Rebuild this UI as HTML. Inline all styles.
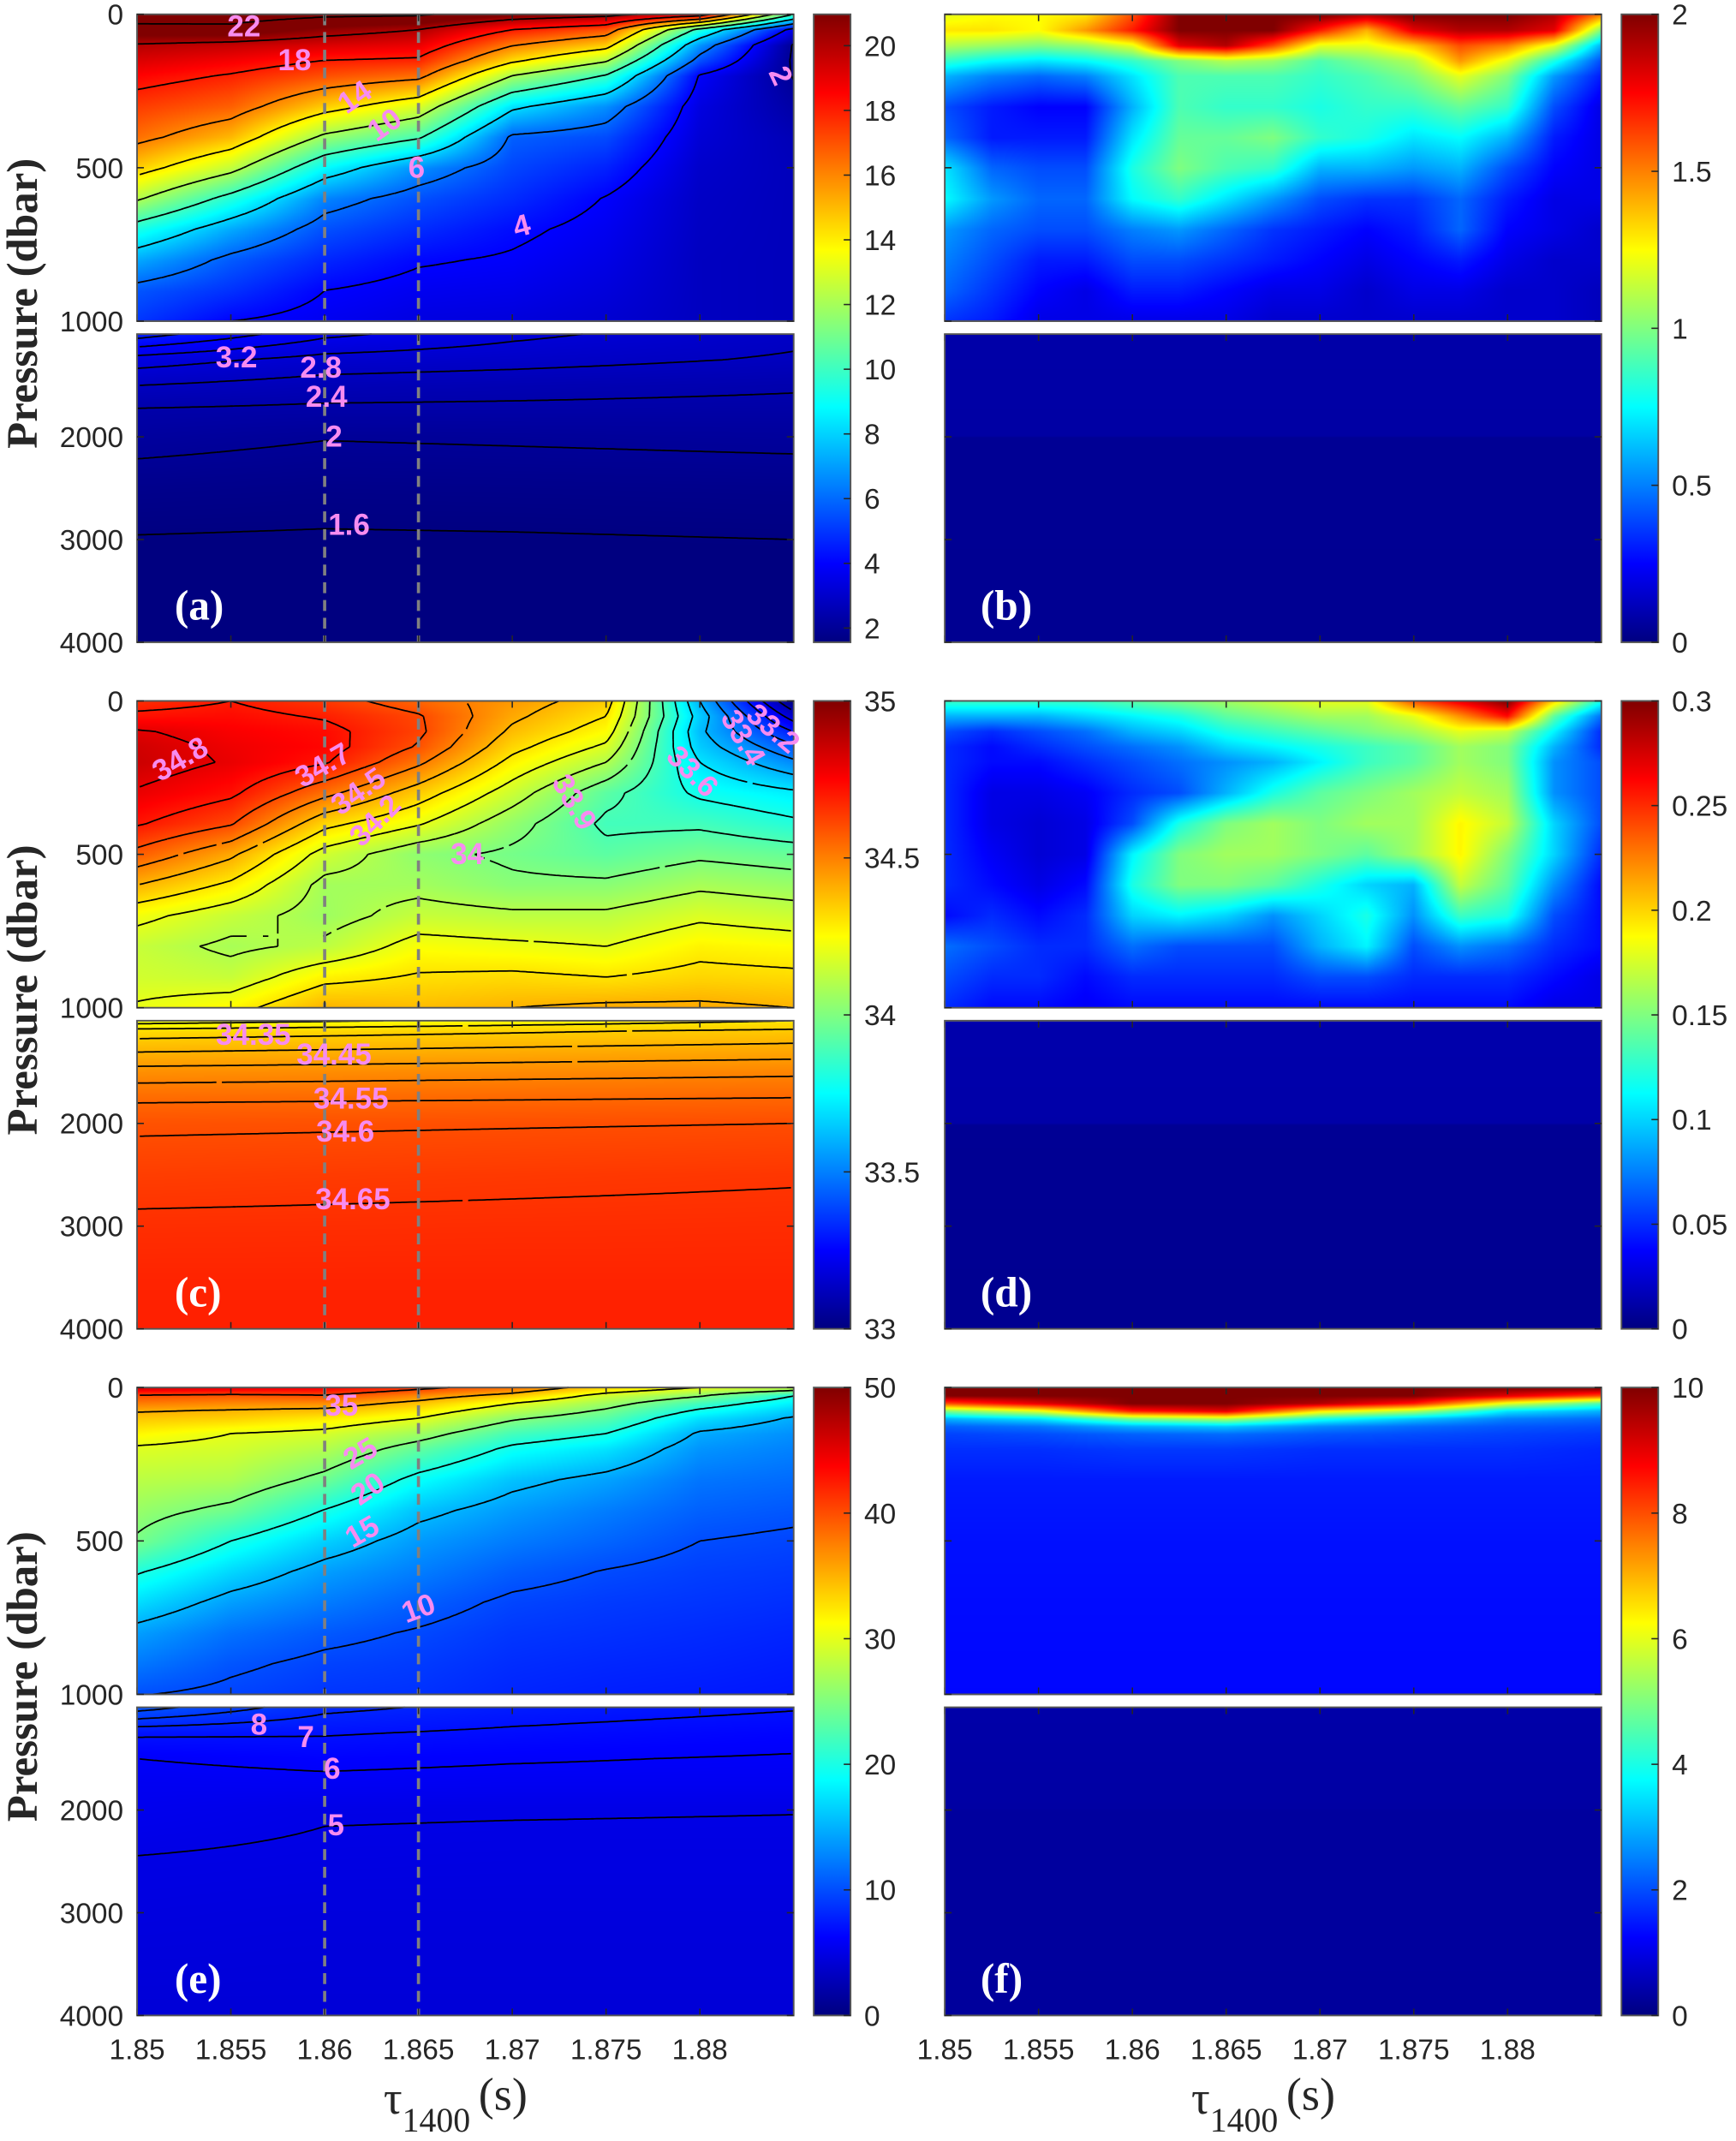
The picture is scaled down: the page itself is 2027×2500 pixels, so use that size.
<!DOCTYPE html>
<html><head><meta charset="utf-8">
<style>
html,body{margin:0;padding:0;background:#fff;width:2027px;height:2500px;overflow:hidden}
#stage{position:absolute;left:0;top:0;width:1273px;height:1570px;transform:scale(1.592302);transform-origin:0 0}
canvas{position:absolute;display:block}
svg{position:absolute;left:0;top:0}
text{font-family:"Liberation Sans",sans-serif}
</style></head>
<body>
<div id="stage">
<svg id="ov" width="1273" height="1570" viewBox="0 0 1273 1570"></svg>
</div>
<script>
// ===== DATA =====
const tauCols8 = [1.85,1.855,1.86,1.865,1.87,1.875,1.88,1.885];
const tauCols15 = [1.85,1.8525,1.855,1.8575,1.86,1.8625,1.865,1.8675,1.87,1.8725,1.875,1.8775,1.88,1.8825,1.885];
const xTickValues = [1.85,1.855,1.86,1.865,1.87,1.875,1.88];
const xTickLabels = ["1.85","1.855","1.86","1.865","1.87","1.875","1.88"];
const dashedTaus = [1.86,1.865];

// (a) temperature, upper 0-1000
const tempUpperDepth = [0,50,100,150,200,300,400,500,600,700,800,900,1000];
const tempUpper = [
 [22.8,21.5,19.9,19.2,18.5,17.4,16.4,14.6,12.2,9.3,7.2,5.6,5.0],
 [22.7,21.6,19.6,18.7,17.9,16.7,15.0,12.5,9.5,7.2,5.7,4.9,4.0],
 [22.3,20.6,19.2,18.0,17.0,14.6,11.7,8.8,6.5,5.5,4.7,4.0,3.7],
 [22.2,20.0,18.9,17.8,16.4,13.0,10.2,6.7,5.5,4.8,4.1,3.7,3.4],
 [21.0,18.0,16.1,14.3,12.0,8.3,5.8,5.3,4.8,4.2,3.9,3.6,3.3],
 [20.5,16.9,14.6,12.2,9.9,6.7,5.4,4.6,3.95,3.7,3.5,3.3,3.1],
 [19.0,9.5,6.8,5.5,3.9,3.4,3.2,3.0,2.9,2.85,2.8,2.8,2.8],
 [10.0,3.5,1.9,1.85,1.95,2.3,2.6,2.7,2.7,2.7,2.7,2.7,2.7]];
const tempLowerTau = [1.85,1.86,1.87,1.885];
const tempLowerDepth = [1000,1250,1500,1750,2000,2500,3000,3500,4000];
const tempLower = [
 [4.6,3.4,2.8,2.35,2.15,1.8,1.58,1.45,1.35],
 [3.7,3.05,2.62,2.3,2.02,1.75,1.56,1.45,1.35],
 [3.3,2.95,2.55,2.3,2.05,1.77,1.57,1.45,1.35],
 [2.9,2.75,2.45,2.28,2.1,1.8,1.6,1.46,1.36]];
const tempUpperLevels = [2,4,6,8,10,12,14,16,18,20,22];
const tempLowerLevels = [1.6,2,2.4,2.8,3.2,3.6,4.0,4.4];

// (b) temperature std
const tstdUpperDepth = [0,50,100,150,200,300,400,500,600,700,800,900,1000];
const tstdUpper = [
 [1.2,1.3,1.1,0.85,0.6,0.4,0.45,0.7,0.75,0.55,0.5,0.45,0.35],
 [1.25,1.3,1.05,0.75,0.5,0.3,0.3,0.45,0.55,0.45,0.4,0.35,0.3],
 [1.25,1.25,1.0,0.7,0.45,0.25,0.3,0.4,0.45,0.4,0.3,0.25,0.2],
 [1.3,1.45,1.05,0.75,0.5,0.25,0.3,0.4,0.45,0.4,0.3,0.2,0.2],
 [1.6,1.7,1.2,0.85,0.7,0.6,0.7,0.8,0.75,0.5,0.4,0.3,0.2],
 [2.0,2.0,1.8,1.0,0.9,0.9,0.95,1.0,0.85,0.55,0.4,0.3,0.2],
 [2.0,2.0,1.9,1.1,0.9,0.85,0.95,0.9,0.7,0.45,0.35,0.25,0.2],
 [2.0,2.0,1.6,1.05,0.9,0.85,1.0,0.85,0.55,0.35,0.3,0.2,0.15],
 [2.0,1.7,1.2,0.9,0.85,0.8,0.85,0.6,0.4,0.3,0.25,0.2,0.15],
 [1.9,1.4,1.2,1.0,0.9,0.85,0.8,0.6,0.35,0.25,0.2,0.15,0.15],
 [2.0,1.8,1.35,1.1,1.0,0.85,0.7,0.55,0.35,0.3,0.25,0.2,0.15],
 [2.0,1.9,1.6,1.45,1.2,0.95,0.75,0.6,0.45,0.45,0.3,0.2,0.15],
 [2.0,1.9,1.5,1.2,1.0,0.85,0.6,0.4,0.3,0.25,0.2,0.15,0.15],
 [1.9,1.8,1.2,0.8,0.55,0.4,0.3,0.25,0.2,0.2,0.15,0.15,0.15],
 [1.5,1.0,0.6,0.4,0.3,0.2,0.2,0.2,0.2,0.15,0.15,0.12,0.12]];
const stdLowerTau = [1.85,1.885];
const stdLowerDepth = [1000,1990,2010,4000];
const tstdLower = [[0.08,0.07,0.04,0.035],[0.08,0.07,0.04,0.035]];

// (c) salinity
const saltUpperDepth = [0,50,100,150,200,300,400,500,600,700,800,900,1000];
const saltUpper = [
 [34.66,34.72,34.81,34.84,34.85,34.79,34.71,34.57,34.40,34.23,34.14,34.16,34.21],
 [34.70,34.73,34.76,34.78,34.79,34.72,34.61,34.42,34.28,34.14,34.08,34.14,34.26],
 [34.64,34.69,34.73,34.74,34.71,34.53,34.33,34.16,34.07,34.06,34.12,34.27,34.40],
 [34.55,34.61,34.62,34.59,34.52,34.35,34.21,34.03,34.07,34.14,34.24,34.31,34.38],
 [34.45,34.42,34.38,34.33,34.27,34.15,34.04,33.98,34.02,34.12,34.22,34.32,34.40],
 [34.35,34.30,34.25,34.18,34.10,33.93,33.88,33.93,34.02,34.12,34.20,34.30,34.42],
 [33.60,33.65,33.62,33.65,33.70,33.78,33.88,33.98,34.08,34.18,34.27,34.33,34.42],
 [33.00,33.15,33.30,33.42,33.52,33.72,33.82,33.95,34.05,34.15,34.25,34.32,34.40]];
const saltLowerTau = [1.85,1.885];
const saltLowerDepth = [1000,1100,1250,1500,1750,2000,2500,3000,3500,4000];
const saltLower = [
 [34.22,34.32,34.38,34.47,34.54,34.59,34.63,34.66,34.68,34.69],
 [34.30,34.36,34.41,34.49,34.55,34.60,34.645,34.665,34.68,34.69]];
const saltUpperLevels = [33.0,33.1,33.2,33.3,33.4,33.5,33.6,33.7,33.8,33.9,34.0,34.1,34.2,34.3,34.4,34.5,34.6,34.7,34.8];
const saltLowerLevels = [34.25,34.3,34.35,34.4,34.45,34.5,34.55,34.6,34.65];

// (d) salinity std
const sstdUpperDepth = [0,50,100,150,200,300,400,500,600,700,800,900,1000];
const sstdUpper = [
 [.13,.09,.06,.05,.05,.05,.05,.05,.05,.04,.07,.06,.05],
 [.13,.09,.05,.04,.04,.03,.03,.035,.04,.05,.06,.05,.04],
 [.13,.09,.06,.05,.04,.03,.025,.025,.03,.04,.05,.05,.04],
 [.13,.10,.07,.06,.05,.035,.03,.03,.04,.05,.05,.04,.035],
 [.14,.11,.09,.07,.06,.05,.06,.11,.12,.10,.07,.05,.04],
 [.15,.12,.10,.08,.07,.06,.12,.15,.15,.11,.06,.05,.04],
 [.16,.14,.12,.10,.08,.09,.15,.16,.15,.10,.06,.05,.04],
 [.17,.15,.13,.11,.09,.12,.16,.16,.14,.08,.06,.05,.04],
 [.18,.16,.14,.12,.11,.14,.15,.15,.12,.10,.09,.06,.04],
 [.18,.16,.15,.13,.13,.15,.16,.14,.10,.12,.11,.06,.04],
 [.24,.18,.16,.14,.14,.16,.16,.16,.09,.08,.06,.05,.04],
 [.27,.22,.18,.16,.16,.17,.19,.19,.17,.13,.08,.05,.04],
 [.30,.26,.17,.15,.15,.16,.17,.15,.14,.12,.07,.05,.04],
 [.20,.14,.11,.09,.08,.08,.10,.10,.08,.06,.05,.04,.03],
 [.12,.07,.05,.05,.06,.06,.06,.05,.04,.04,.04,.03,.03]];
const sstdLower = [[0.013,0.012,0.006,0.005],[0.013,0.012,0.006,0.005]];

// (e) third property
const thirdUpperDepth = [0,25,50,75,100,150,200,300,400,500,600,700,800,900,1000];
const thirdUpper = [
 [46,40,37.6,35.3,33.9,31.5,29.6,27.9,26.2,24.6,20.3,17.1,14.0,12.1,10.1],
 [45,39.5,37,34.8,33.5,30,29.1,27.3,24.2,20,16.8,14.0,11.8,10.4,9.5],
 [44,40,36.8,34.3,32.1,29.2,27.5,24.1,19.9,16.5,14.0,12.3,10.6,9.5,8.8],
 [41,37,34.2,32,30,26.5,23.5,19.0,15.8,13.8,12.4,10.9,9.8,9.1,8.6],
 [38,34,30.2,27.8,25.5,22.0,19.3,15.8,13.8,12.3,10.8,9.6,8.9,8.4,8.0],
 [33,28.9,26.5,24.6,23,20,17.4,14.2,12.4,11.2,9.9,9.1,8.6,8.1,7.7],
 [30,25.6,22,19.5,17.3,14.6,13.5,12,11,10,9.3,8.8,8.3,7.9,7.5],
 [28,20.2,18.1,16.2,14.7,13.3,12.6,11.5,10.5,9.6,9.0,8.5,8.0,7.6,7.3]];
const thirdLowerTau = [1.85,1.86,1.87,1.885];
const thirdLowerDepth = [1000,1250,1500,1750,2000,2500,3000,4000];
const thirdLower = [
 [10.5,7.2,6.0,5.6,5.4,4.95,4.7,4.3],
 [8.3,7.1,6.3,5.7,5.07,4.85,4.6,4.3],
 [7.6,6.8,6.1,5.6,5.05,4.8,4.6,4.3],
 [7.1,6.4,5.9,5.6,5.02,4.8,4.6,4.3]];
const thirdUpperLevels = [10,15,20,25,30,35,40];
const thirdLowerLevels = [5,6,7,8,9,10];

// (f) third std
const fstdUpperDepth = [0,25,50,75,100,125,150,200,300,500,700,1000];
const fstdUpper = [
 [10,10,8,5,3,2.2,1.9,1.7,1.5,1.4,1.35,1.3],
 [10,10,9,6,3.5,2.4,2,1.7,1.5,1.4,1.35,1.3],
 [10,10,10,8.5,5,3,2.2,1.8,1.5,1.4,1.35,1.3],
 [10,10,10,9,5.5,3.2,2.3,1.8,1.5,1.4,1.35,1.3],
 [10,10,9.5,6.5,4,2.6,2.1,1.7,1.5,1.4,1.35,1.3],
 [10,10,8.5,5.5,3.2,2.3,2,1.7,1.5,1.4,1.35,1.3],
 [10,9,6,3.5,2.5,2.1,1.9,1.7,1.5,1.4,1.35,1.3],
 [10,8,4.5,3,2.3,2,1.8,1.6,1.5,1.4,1.35,1.3]];
const fstdLower = [[0.4,0.35,0.3,0.28],[0.4,0.35,0.3,0.28]];

// colorbars
const cbTempTicks = [2,4,6,8,10,12,14,16,18,20];
const cbTempRange = [1.56,20.97];
const cbTstdTicks = [0,0.5,1,1.5,2];
const cbTstdRange = [0,2];
const cbSaltTicks = [33,33.5,34,34.5,35];
const cbSaltRange = [33,35];
const cbSstdTicks = [0,0.05,0.1,0.15,0.2,0.25,0.3];
const cbSstdRange = [0,0.3];
const cbThirdTicks = [0,10,20,30,40,50];
const cbThirdRange = [0,50];
const cbFstdTicks = [0,2,4,6,8,10];
const cbFstdRange = [0,10];

const yUpperTicks = [0,500,1000];
const yLowerTicks = [2000,3000,4000];

// contour label text (value, tau, pressure, rotation)
const labelsA = [["22",1.8557,40,0],["18",1.8584,150,0],["14",1.8616,270,-35],["10",1.8632,360,-35],["6",1.8649,500,0],["4",1.8705,690,-15],["2",1.8843,200,65],
 ["3.2",1.8553,1230,0],["2.8",1.8598,1330,0],["2.4",1.8601,1610,0],["2",1.8605,2000,0],["1.6",1.8613,2860,0]];
const labelsC = [["34.8",1.8523,190,-30],["34.7",1.8599,210,-30],["34.5",1.8618,295,-35],["34.2",1.8627,390,-45],["34",1.8676,500,0],["33.9",1.8733,330,60],["33.6",1.8796,230,45],["33.4",1.8823,120,60],["33.2",1.8839,90,40],
 ["34.35",1.8562,1140,0],["34.45",1.8605,1330,0],["34.55",1.8614,1760,0],["34.6",1.8611,2080,0],["34.65",1.8615,2740,0]];
const labelsE = [["35",1.8609,60,0],["25",1.8619,215,-30],["20",1.8623,330,-35],["15",1.8620,470,-30],["10",1.8650,720,-20],
 ["8",1.8565,1170,0],["7",1.8590,1290,0],["6",1.8604,1600,0],["5",1.8606,2150,0]];

// ===== LAYOUT =====
const S = 2027/1273;
const NS = "http://www.w3.org/2000/svg";
const LX = 100.5, RX = 692.8, PW = 481.5;
const ROWS = [10.5, 514, 1017.5];
const UH = 225, LOFF = 234.5, LH = 226;
const TMIN = 1.85, TMAX = 1.885;
const ov = document.getElementById('ov');
const stage = document.getElementById('stage');

function xScale(x0, t){ return x0 + (t - TMIN)/(TMAX - TMIN)*PW; }
function yUpper(top, p){ return top + p/1000*UH; }
function yLower(top, p){ return top + LOFF + (p-1000)/3000*LH; }

function jet(t){
  t = Math.max(0, Math.min(1, t));
  const c = v => Math.max(0, Math.min(1, v));
  return [c(Math.min(4*t-1.5, -4*t+4.5)), c(Math.min(4*t-0.5, -4*t+3.5)), c(Math.min(4*t+0.5, -4*t+2.5))];
}
function seg(arr, v){
  if (v <= arr[0]) return [0, 0];
  for (let i=0;i<arr.length-1;i++){ if (v <= arr[i+1]) return [i, (v-arr[i])/(arr[i+1]-arr[i])]; }
  return [arr.length-2, 1];
}
function field(taus, deps, cols, t, p){
  const [i, fx] = seg(taus, t), [j, fy] = seg(deps, p);
  const a = cols[i][j], b = cols[i+1][j], c = cols[i][j+1], d = cols[i+1][j+1];
  return (a*(1-fx)+b*fx)*(1-fy) + (c*(1-fx)+d*fx)*fy;
}
function mk(tag, attrs, parent){
  const e = document.createElementNS(NS, tag);
  for (const k in attrs) e.setAttribute(k, attrs[k]);
  (parent||ov).appendChild(e);
  return e;
}

function drawField(x0, y0, h, p0, p1, taus, deps, cols, range, name){
  const cv = document.createElement('canvas');
  const cw = Math.round(PW*S), ch = Math.round(h*S);
  cv.width = cw; cv.height = ch;
  cv.style.left = x0+'px'; cv.style.top = y0+'px';
  cv.style.width = PW+'px'; cv.style.height = h+'px';
  
  
  stage.insertBefore(cv, ov);
  const ctx = cv.getContext('2d');
  const img = ctx.createImageData(cw, ch);
  for (let j=0;j<ch;j++){
    const p = p0 + (j+0.5)/ch*(p1-p0);
    for (let i=0;i<cw;i++){
      const t = TMIN + (i+0.5)/cw*(TMAX-TMIN);
      const v = field(taus, deps, cols, t, p);
      const c = jet((v-range[0])/(range[1]-range[0]));
      const k = (j*cw+i)*4;
      img.data[k]=c[0]*255; img.data[k+1]=c[1]*255; img.data[k+2]=c[2]*255; img.data[k+3]=255;
    }
  }
  ctx.putImageData(img, 0, 0);
}

function drawContours(x0, y0, h, p0, p1, taus, deps, cols, levels, name){
  const nx = 240, ny = 120;
  const V = [];
  for (let j=0;j<=ny;j++){ const row=[]; const p=p0+j/ny*(p1-p0);
    for (let i=0;i<=nx;i++){ row.push(field(taus,deps,cols,TMIN+i/nx*(TMAX-TMIN),p)); } V.push(row); }
  const X = i => x0 + i/nx*PW, Y = j => y0 + j/ny*h;
  let d = '';
  for (const L of levels){
    for (let j=0;j<ny;j++) for (let i=0;i<nx;i++){
      const a=V[j][i], b=V[j][i+1], c=V[j+1][i+1], e=V[j+1][i];
      const pts=[];
      if ((a-L)*(b-L)<0){ const f=(L-a)/(b-a); pts.push([X(i+f),Y(j)]); }
      if ((b-L)*(c-L)<0){ const f=(L-b)/(c-b); pts.push([X(i+1),Y(j+f)]); }
      if ((e-L)*(c-L)<0){ const f=(L-e)/(c-e); pts.push([X(i+f),Y(j+1)]); }
      if ((a-L)*(e-L)<0){ const f=(L-a)/(e-a); pts.push([X(i),Y(j+f)]); }
      for (let k=0;k+1<pts.length;k+=2) d += 'M'+pts[k][0].toFixed(1)+' '+pts[k][1].toFixed(1)+'L'+pts[k+1][0].toFixed(1)+' '+pts[k+1][1].toFixed(1);
    }
  }
  const path = mk('path', {d:d, fill:'none', stroke:'#000', 'stroke-width':1.1});
  
  
}

function axesFrame(x0, top, name, isLeftCol, showYLabels){
  const boxes = [[top, UH, 'upper'], [top+LOFF, LH, 'lower']];
  for (const [y, h, part] of boxes){
    for (const t of xTickValues){
      const x = xScale(x0, t);
      const t1 = mk('line', {x1:x, x2:x, y1:y, y2:y+5, stroke:'#262626', 'stroke-width':1});
      
      
      const t2 = mk('line', {x1:x, x2:x, y1:y+h-5, y2:y+h, stroke:'#262626', 'stroke-width':1});
      
      
    }
    const r = mk('rect', {x:x0, y:y, width:PW, height:h, fill:'none', stroke:'#555', 'stroke-width':1.2});
    
    
  }
  const yt = [];
  for (const p of yUpperTicks) yt.push([p, yUpper(top, p)]);
  for (const p of yLowerTicks) yt.push([p, yLower(top, p)]);
  for (const [p, y] of yt){
    const a = mk('line', {x1:x0, x2:x0+5, y1:y, y2:y, stroke:'#262626', 'stroke-width':1});
    
    
    const b = mk('line', {x1:x0+PW-5, x2:x0+PW, y1:y, y2:y, stroke:'#262626', 'stroke-width':1});
    
    
    if (showYLabels){
      const tx = mk('text', {x:x0-10, y:y+7.5, 'text-anchor':'end', 'font-size':21, fill:'#262626'});
      tx.textContent = String(p);
      
      
    }
  }
}

function dashed(x0, top){
  for (const t of dashedTaus){
    const x = xScale(x0, t);
    for (const [y1,y2] of [[top, top+UH],[top+LOFF, top+LOFF+LH]]){
      const l = mk('line', {x1:x, x2:x, y1:y1, y2:y2, stroke:'#808080', 'stroke-width':2.3, 'stroke-dasharray':'8,5'});
      
      
    }
  }
}

function colorbar(x, top, ticks, range, name){
  const w = 27, h = LOFF+LH;
  const gid = 'g'+name;
  let defs = ov.querySelector('defs'); if (!defs) defs = mk('defs', {});
  const g = mk('linearGradient', {id:gid, x1:0, y1:1, x2:0, y2:0}, defs);
  for (let k=0;k<=32;k++){ const c = jet(k/32);
    mk('stop', {offset:(k/32), 'stop-color':'rgb('+Math.round(c[0]*255)+','+Math.round(c[1]*255)+','+Math.round(c[2]*255)+')'}, g); }
  const r = mk('rect', {x:x, y:top, width:w, height:h, fill:'url(#'+gid+')', stroke:'#555', 'stroke-width':1.2});
  
  
  for (const v of ticks){
    const y = top + h - (v-range[0])/(range[1]-range[0])*h;
    const l = mk('line', {x1:x+w-5, x2:x+w, y1:y, y2:y, stroke:'#262626', 'stroke-width':1});
    
    
    const t = mk('text', {x:x+w+10, y:y+7.5, 'font-size':21, fill:'#262626'});
    t.textContent = String(v);
    
    
  }
}

function contourLabels(x0, top, labels, name){
  for (const [txt, t, p, rot] of labels){
    const x = xScale(x0, t);
    const y = p <= 1000 ? yUpper(top, p) : yLower(top, p);
    const e = mk('text', {x:x, y:y, 'text-anchor':'middle', 'dominant-baseline':'central', 'font-size':22, 'font-weight':'bold', fill:'#f78cf0', transform:'rotate('+rot+' '+x+' '+y+')'});
    e.textContent = txt;
    
    
  }
}

function panelLabel(x, y, txt){
  const e = mk('text', {x:x, y:y, 'font-size':31, 'font-weight':'bold', fill:'#fff', style:'font-family:"Liberation Serif",serif'});
  e.textContent = txt;
  
  
}

function panel(x0, top, upTaus, upDeps, upCols, loTaus, loDeps, loCols, range, name, upLevels, loLevels){
  drawField(x0, top, UH, 0, 1000, upTaus, upDeps, upCols, range, name+'-upper-field');
  drawField(x0, top+LOFF, LH, 1000, 4000, loTaus, loDeps, loCols, range, name+'-lower-field');
  if (upLevels) drawContours(x0, top, UH, 0, 1000, upTaus, upDeps, upCols, upLevels, name+'-upper-contours');
  if (loLevels) drawContours(x0, top+LOFF, LH, 1000, 4000, loTaus, loDeps, loCols, loLevels, name+'-lower-contours');
}

panel(LX, ROWS[0], tauCols8, tempUpperDepth, tempUpper, tempLowerTau, tempLowerDepth, tempLower, cbTempRange, 'temperature', tempUpperLevels, tempLowerLevels);
panel(RX, ROWS[0], tauCols15, tstdUpperDepth, tstdUpper, stdLowerTau, stdLowerDepth, tstdLower, cbTstdRange, 'temperature-std');
panel(LX, ROWS[1], tauCols8, saltUpperDepth, saltUpper, saltLowerTau, saltLowerDepth, saltLower, cbSaltRange, 'salinity', saltUpperLevels, saltLowerLevels);
panel(RX, ROWS[1], tauCols15, sstdUpperDepth, sstdUpper, stdLowerTau, stdLowerDepth, sstdLower, cbSstdRange, 'salinity-std');
panel(LX, ROWS[2], tauCols8, thirdUpperDepth, thirdUpper, thirdLowerTau, thirdLowerDepth, thirdLower, cbThirdRange, 'property-e', thirdUpperLevels, thirdLowerLevels);
panel(RX, ROWS[2], tauCols8, fstdUpperDepth, fstdUpper, stdLowerTau, stdLowerDepth, fstdLower, cbFstdRange, 'property-f-std');

for (let r=0;r<3;r++){
  dashed(LX, ROWS[r]);
  axesFrame(LX, ROWS[r], 'left-panel-'+r, true, true);
  axesFrame(RX, ROWS[r], 'right-panel-'+r, false, false);
}
contourLabels(LX, ROWS[0], labelsA, 'temperature');
contourLabels(LX, ROWS[1], labelsC, 'salinity');
contourLabels(LX, ROWS[2], labelsE, 'property-e');

colorbar(596.7, ROWS[0], cbTempTicks, cbTempRange, 'temperature');
colorbar(1189, ROWS[0], cbTstdTicks, cbTstdRange, 'temperature-std');
colorbar(596.7, ROWS[1], cbSaltTicks, cbSaltRange, 'salinity');
colorbar(1189, ROWS[1], cbSstdTicks, cbSstdRange, 'salinity-std');
colorbar(596.7, ROWS[2], cbThirdTicks, cbThirdRange, 'property-e');
colorbar(1189, ROWS[2], cbFstdTicks, cbFstdRange, 'property-f-std');

const plabels = ['(a)','(b)','(c)','(d)','(e)','(f)'];
for (let r=0;r<3;r++){
  panelLabel(128, ROWS[r]+444, plabels[2*r]);
  panelLabel(719, ROWS[r]+444, plabels[2*r+1]);
  const yl = mk('text', {x:0, y:0, 'text-anchor':'middle', 'font-size':32, 'font-weight':'bold', fill:'#262626', style:'font-family:"Liberation Serif",serif', transform:'translate(27 '+(ROWS[r]+212)+') rotate(-90)'});
  yl.textContent = 'Pressure (dbar)';
  
  
}
for (const x0 of [LX, RX]){
  xTickValues.forEach((t, k) => {
    const e = mk('text', {x:xScale(x0,t), y:1510, 'text-anchor':'middle', 'font-size':21, fill:'#262626'});
    e.textContent = xTickLabels[k];
    
    
  });
  const cx = x0 + PW/2;
  const tt = mk('text', {x:cx-60, y:1550, 'font-size':34, fill:'#262626', style:'font-family:"Liberation Serif",serif'});
  
  
  const s1 = mk('tspan', {}, tt); s1.textContent = 'τ';
  const s2 = mk('tspan', {'font-size':25, dy:13}, tt); s2.textContent = '1400';
  const s3 = mk('tspan', {dy:-16, dx:6}, tt); s3.textContent = '(s)';
}
</script>
</body></html>
